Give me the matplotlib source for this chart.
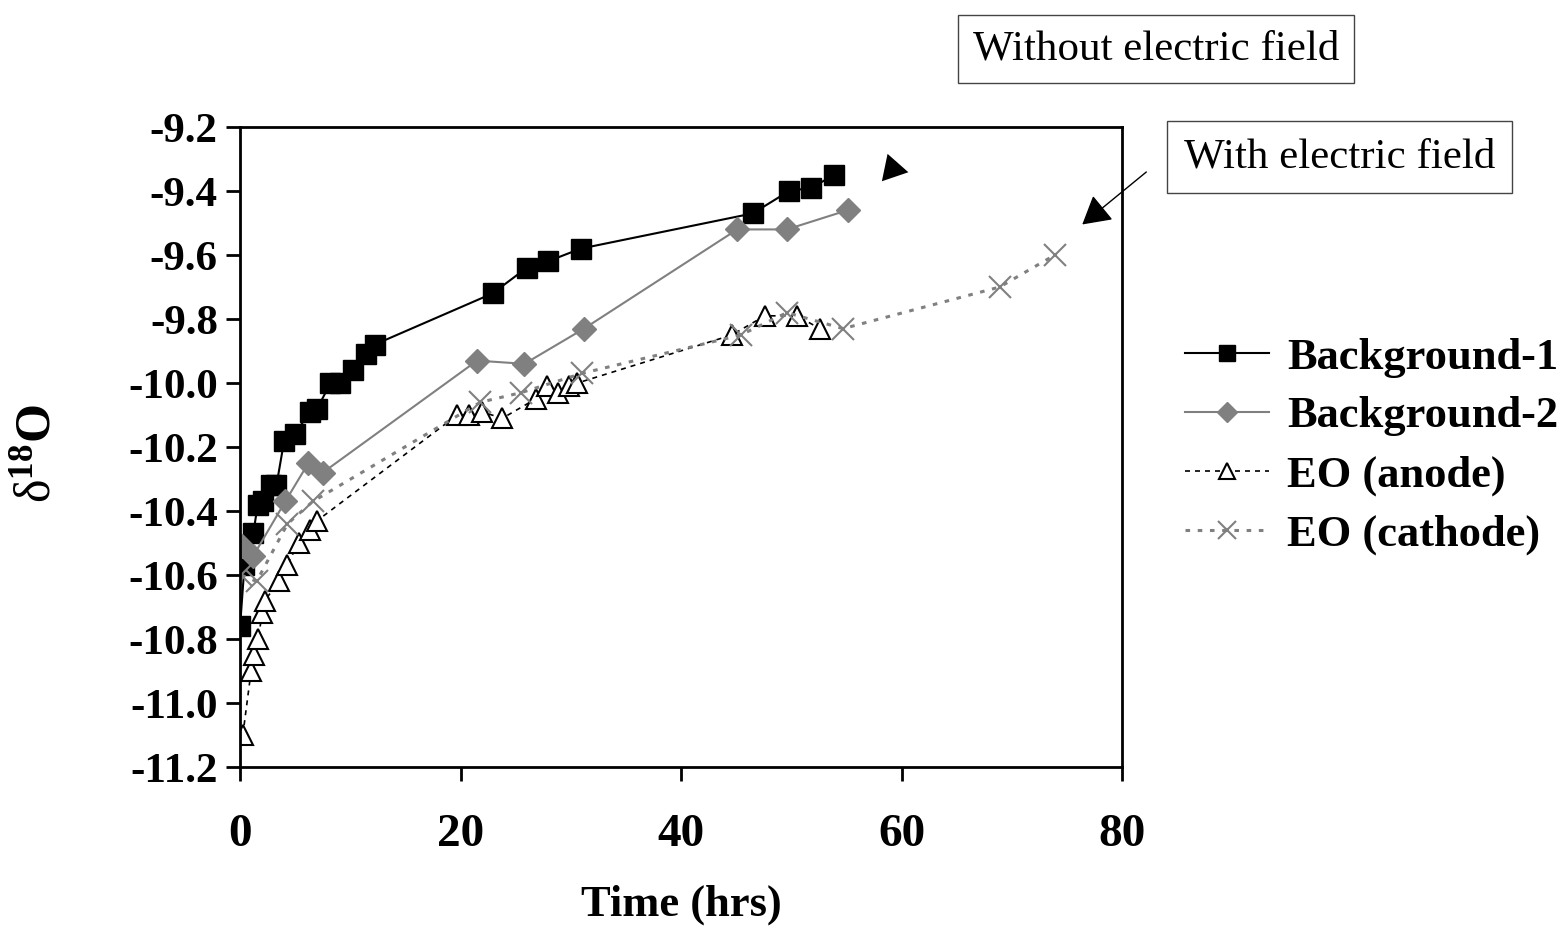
import matplotlib
matplotlib.use('Agg')
import matplotlib.pyplot as plt
from matplotlib.ticker import FormatStrFormatter

plt.rcParams['font.family'] = 'Liberation Serif'
plt.rcParams['axes.unicode_minus'] = False
plt.rcParams['mathtext.fontset'] = 'custom'
plt.rcParams['mathtext.rm'] = 'Liberation Serif'
plt.rcParams['mathtext.it'] = 'Liberation Serif:italic'
plt.rcParams['mathtext.bf'] = 'Liberation Serif:bold'

# data
bg1_t = [0, 0.4, 1.2, 1.6, 2.1, 2.8, 3.3, 4.0, 5.0, 6.3, 7.0, 8.2, 9.1, 10.2, 11.4, 12.2,
         22.9, 26.0, 27.9, 30.9, 46.5, 49.8, 51.8, 53.9]
bg1_d = [-10.76, -10.57, -10.47, -10.38, -10.37, -10.32, -10.32, -10.18, -10.16, -10.09, -10.08,
         -10.0, -10.0, -9.96, -9.91, -9.88, -9.72, -9.64, -9.62, -9.58, -9.47, -9.40, -9.39, -9.35]

bg2_t = [0.2, 1.2, 4.1, 6.2, 7.5, 21.5, 25.8, 31.2, 45.1, 49.6, 55.1]
bg2_d = [-10.51, -10.54, -10.37, -10.25, -10.28, -9.93, -9.94, -9.83, -9.52, -9.52, -9.46]

anode_t = [0.25, 1.0, 1.3, 1.65, 2.0, 2.25, 3.5, 4.25, 5.3, 6.35, 7.0,
           19.7, 20.8, 21.9, 23.8, 26.8, 27.8, 28.8, 29.8, 30.6, 44.6, 47.6, 50.5, 52.6]
anode_d = [-11.10, -10.90, -10.85, -10.80, -10.72, -10.68, -10.62, -10.57, -10.50, -10.46, -10.43,
           -10.10, -10.10, -10.09, -10.11, -10.05, -10.01, -10.03, -10.01, -10.00, -9.85, -9.79, -9.79, -9.83]

cath_t = [0.1, 1.5, 4.3, 6.6, 21.8, 25.5, 31.0, 45.4, 49.6, 54.7, 68.9, 73.9]
cath_d = [-10.60, -10.62, -10.44, -10.37, -10.06, -10.03, -9.97, -9.85, -9.78, -9.83, -9.70, -9.60]

yticks = [-9.2, -9.4, -9.6, -9.8, -10.0, -10.2, -10.4, -10.6, -10.8, -11.0, -11.2]
xticks = [0, 20, 40, 60, 80]

gray = '#808080'

fig = plt.figure(figsize=(15.64, 9.43), dpi=100)
ax = fig.add_axes([0.1535, 0.1866, 0.5639, 0.6787])

ax.plot(bg1_t, bg1_d, color='black', lw=1.5, marker='s', ms=14,
        mfc='black', mec='black', label='Background-1')
ax.plot(bg2_t, bg2_d, color=gray, lw=1.5, marker='D', ms=12,
        mfc=gray, mec=gray, label='Background-2')
ax.plot(anode_t, anode_d, color='black', lw=1.2, ls=(0, (3, 3)), marker='^', ms=14,
        mfc='white', mec='black', mew=1.5, label='EO (anode)')
ax.plot(cath_t, cath_d, color=gray, lw=2.2, ls=(0, (1.5, 2.5)), marker='x', ms=16,
        mec=gray, mew=1.5, label='EO (cathode)')

ax.set_xlim(0, 80)
ax.set_ylim(-11.2, -9.2)
ax.set_xticks(xticks)
ax.set_yticks(yticks)
ax.yaxis.set_major_formatter(FormatStrFormatter('%.1f'))
for s in ax.spines.values():
    s.set_linewidth(2)
ax.tick_params(axis='both', direction='out', length=10, width=2)
ax.tick_params(axis='x', pad=24, labelsize=34)
ax.tick_params(axis='y', pad=6, labelsize=31)
for lbl in ax.get_xticklabels() + ax.get_yticklabels():
    lbl.set_fontweight('bold')

ax.set_xlabel('Time (hrs)', fontsize=32, fontweight='bold', labelpad=20)
ax.set_ylabel(r'$\mathrm{\delta}^{\mathbf{18}}\mathbf{O}$', fontsize=36)
ax.yaxis.set_label_coords(-0.203, 0.49)

leg = fig.legend(loc='upper left', bbox_to_anchor=(0.7577, 0.642), frameon=False,
                 prop={'size': 32, 'weight': 'bold'}, handlelength=1.9,
                 markerscale=0.85, labelspacing=0.42, handletextpad=0.4,
                 borderpad=0, borderaxespad=0)

# annotation boxes
fig.text(0.739, 0.948, 'Without electric field', fontsize=31, ha='center', va='center',
         bbox=dict(boxstyle='square,pad=0.35', fc='white', ec='#444444', lw=1))
fig.text(0.8565, 0.8335, 'With electric field', fontsize=31, ha='center', va='center',
         bbox=dict(boxstyle='square,pad=0.4', fc='white', ec='#444444', lw=1))

# arrows
ax.annotate('', xy=(58.05, -9.376), xytext=(60.0, -9.30), annotation_clip=False,
            arrowprops=dict(arrowstyle='-|>,head_length=0.7,head_width=0.4',
                            mutation_scale=25, fc='black', ec='black', lw=0))
ax.annotate('', xy=(76.2, -9.51), xytext=(82.4, -9.335), annotation_clip=False,
            arrowprops=dict(arrowstyle='-|>,head_length=0.7,head_width=0.4',
                            mutation_scale=25, color='black', lw=1))

fig.savefig('out.png', dpi=100)
